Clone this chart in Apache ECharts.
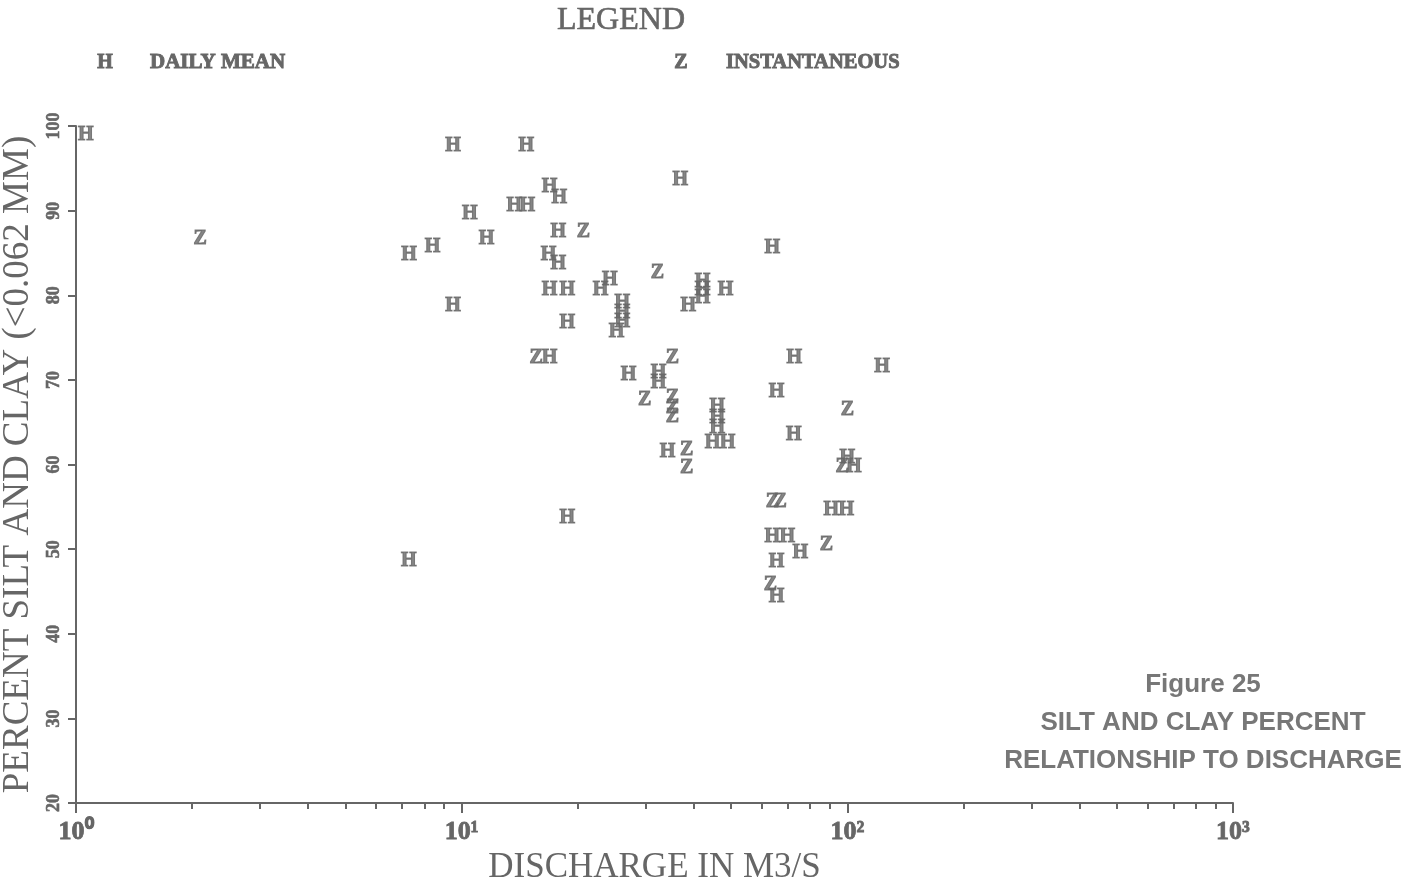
<!DOCTYPE html>
<html>
<head>
<meta charset="utf-8">
<script src="https://cdn.jsdelivr.net/npm/echarts@6/dist/echarts.min.js"></script>
<style>
html,body{margin:0;padding:0;background:#fff;}
#chart{width:1423px;height:880px;}
</style>
</head>
<body>
<div id="chart"></div>
<script>
// Discharge (m3/s) and percent silt & clay
const dailyMean = [
  [1.06, 99.0], [9.5, 97.7], [14.7, 97.7], [36.9, 93.6], [16.9, 92.8], [17.9, 91.5],
  [13.7, 90.6], [14.8, 90.6], [10.5, 89.6], [11.6, 86.7], [17.8, 87.5], [7.3, 84.8],
  [8.4, 85.7], [16.8, 84.8], [17.8, 83.7], [63.9, 85.6], [24.2, 81.8], [22.9, 80.6],
  [16.9, 80.6], [18.8, 80.6], [26.1, 79.1], [26.1, 77.9], [26.1, 76.9], [25.2, 75.7],
  [42.1, 81.6], [42.1, 80.6], [42.1, 79.7], [38.7, 78.7], [48.3, 80.6], [9.5, 78.7],
  [18.8, 76.7], [16.9, 72.6], [72.9, 72.6], [123, 71.5], [27.1, 70.6], [32.4, 70.8],
  [32.4, 69.6], [46.0, 66.8], [46.0, 65.5], [46.0, 64.3], [44.7, 62.6], [48.9, 62.6],
  [65.5, 68.6], [72.6, 63.5], [34.2, 61.5], [100, 60.8], [104, 59.7], [18.8, 53.7],
  [90.9, 54.6], [99.4, 54.6], [63.9, 51.4], [69.9, 51.4], [75.5, 49.6], [65.5, 48.5],
  [65.5, 44.4], [7.29, 48.6]
];
const instantaneous = [
  [2.1, 86.7], [20.7, 87.5], [32.2, 82.6], [15.6, 72.6], [35.2, 72.6], [29.8, 67.6],
  [35.2, 67.9], [35.2, 66.7], [35.2, 65.6], [100, 66.5], [38.3, 61.7], [38.3, 59.6],
  [97, 59.7], [63.9, 55.6], [67.0, 55.6], [88.2, 50.5], [63.2, 45.8]
];
const majorTicksX = [1, 10, 100, 1000];
const majorLabelsX = ['10\u2070', '10\u00B9', '10\u00B2', '10\u00B3'];
const minorTicksX = [2,3,4,5,6,7,8,9,20,30,40,50,60,70,80,90,200,300,400,500,600,700,800,900];
const yMin = 20, yMax = 100, yStep = 10;
const captionLines = ['Figure 25', 'SILT AND CLAY PERCENT', 'RELATIONSHIP TO DISCHARGE'];

const INK = '#666666';
const SERIF = '"Liberation Serif", serif';
const SANS = '"Liberation Sans", sans-serif';

const chart = echarts.init(document.getElementById('chart'));

function glyphSeries(name, data, glyph) {
  return {
    name: name, type: 'scatter', data: data,
    xAxisIndex: 0, yAxisIndex: 0,
    symbol: 'circle',
    symbolSize: 2,
    itemStyle: { color: 'rgba(0,0,0,0)' },
    label: {
      show: true, position: 'inside', formatter: glyph,
      color: INK, fontFamily: SERIF, fontWeight: 'bold', fontSize: 20,
      textBorderColor: INK, textBorderWidth: 1
    },
    labelLayout: { hideOverlap: false },
    emphasis: { disabled: true },
    silent: true
  };
}

function boldText(x, y, text, size, align) {
  return { type: 'text', x: x, y: y, style: { text: text, fill: INK, stroke: INK, lineWidth: 0.9,
    font: 'bold ' + size + 'px ' + SERIF, textAlign: align, textVerticalAlign: 'middle' } };
}

const option = {
  backgroundColor: '#ffffff',
  animation: false,
  grid: { left: 76, right: 190, top: 126, bottom: 77, containLabel: false, outerBoundsMode: 'none' },
  xAxis: [
    {
      type: 'log', logBase: 10, min: 1, max: 1000,
      position: 'bottom',
      name: 'DISCHARGE IN M3/S', nameLocation: 'middle', nameGap: 44,
      nameTextStyle: { color: INK, fontFamily: SERIF, fontSize: 35 },
      axisLine: { show: true, lineStyle: { color: INK, width: 2 } },
      axisTick: { show: true, length: 10, lineStyle: { color: INK, width: 2 }, customValues: majorTicksX },
      axisLabel: {
        show: true, margin: 16, customValues: majorTicksX,
        color: INK, fontFamily: SERIF, fontWeight: 'bold', fontSize: 26,
        textBorderColor: INK, textBorderWidth: 0.8,
        formatter: function (v) {
          const i = majorTicksX.findIndex(t => Math.abs(t - v) / t < 1e-6);
          return i >= 0 ? majorLabelsX[i] : '';
        }
      },
      splitLine: { show: false }
    },
    {
      type: 'log', logBase: 10, min: 1, max: 1000,
      position: 'bottom',
      axisLine: { show: false },
      axisTick: { show: true, length: 6, lineStyle: { color: INK, width: 2 }, customValues: minorTicksX },
      axisLabel: { show: false },
      splitLine: { show: false }
    }
  ],
  yAxis: {
    type: 'value', min: yMin, max: yMax, interval: yStep,
    name: 'PERCENT SILT AND CLAY (<0.062 MM)', nameLocation: 'middle', nameGap: 37,
    nameTextStyle: { color: INK, fontFamily: SERIF, fontSize: 37 },
    axisLine: { show: true, lineStyle: { color: INK, width: 2 } },
    axisTick: { show: true, length: 8, lineStyle: { color: INK, width: 2 } },
    axisLabel: { show: true, rotate: 90, margin: 13, color: INK, fontFamily: SERIF, fontWeight: 'bold', fontSize: 18,
      textBorderColor: INK, textBorderWidth: 0.6 },
    splitLine: { show: false }
  },
  graphic: [
    { type: 'text', x: 621, y: 21, style: { text: 'LEGEND', fill: INK, stroke: INK, lineWidth: 0.6, font: '32px ' + SERIF, textAlign: 'center', textVerticalAlign: 'middle' } },
    boldText(105, 63, 'H', 20, 'center'),
    boldText(150, 63, 'DAILY MEAN', 21, 'left'),
    boldText(681, 63, 'Z', 20, 'center'),
    boldText(726, 63, 'INSTANTANEOUS', 20.5, 'left'),
    { type: 'text', x: 1203, y: 685, style: { text: captionLines[0], fill: '#777', font: 'bold 26px ' + SANS, textAlign: 'center', textVerticalAlign: 'middle' } },
    { type: 'text', x: 1203, y: 723, style: { text: captionLines[1], fill: '#777', font: 'bold 26px ' + SANS, textAlign: 'center', textVerticalAlign: 'middle' } },
    { type: 'text', x: 1203, y: 761, style: { text: captionLines[2], fill: '#777', font: 'bold 26px ' + SANS, textAlign: 'center', textVerticalAlign: 'middle' } }
  ],
  series: [
    glyphSeries('DAILY MEAN', dailyMean, 'H'),
    glyphSeries('INSTANTANEOUS', instantaneous, 'Z')
  ]
};
chart.setOption(option);
</script>
</body>
</html>
